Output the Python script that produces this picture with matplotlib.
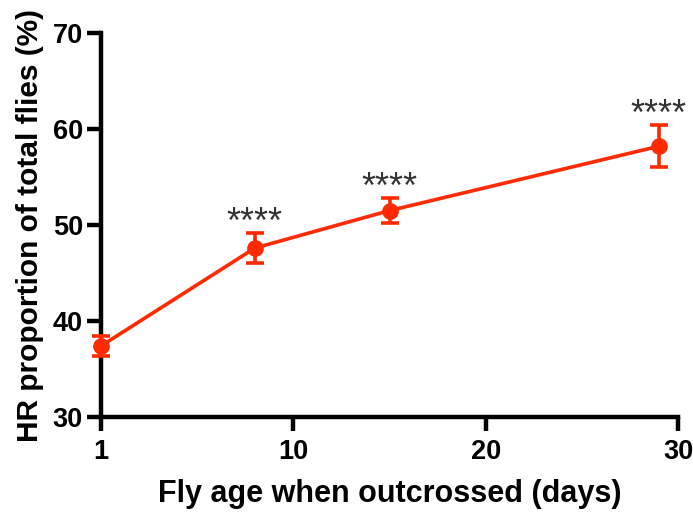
import numpy as np
import matplotlib
matplotlib.use("Agg")
from matplotlib import pyplot as plt

# values
x_pos = [0, 8, 15, 29]          # plotted positions (axis starts at "1")
hr_mean = [37.4, 47.6, 51.5, 58.2]
hr_err = [1.0, 1.6, 1.3, 2.2]
stars = ["", "****", "****", "****"]

x_ticks = [0, 10, 20, 30]
x_ticklabels = ["1", "10", "20", "30"]
y_ticks = [30, 40, 50, 60, 70]

red = "#ff2a00"

plt.rcParams['font.family'] = ['Liberation Sans', 'DejaVu Sans']

fig = plt.figure(figsize=(6.93, 5.22), dpi=100)
ax = fig.add_axes([101/693, 1 - 417/522, (678-101)/693, (417-33)/522])

ax.errorbar(x_pos, hr_mean, yerr=hr_err, color=red, lw=2.6, marker='o',
            markersize=11, capsize=6.5, capthick=2.6, elinewidth=2.6,
            clip_on=False, zorder=3)

for x, m, e, s in zip(x_pos, hr_mean, hr_err, stars):
    if s:
        ax.annotate(s, (x, m + e), xytext=(0, 0), textcoords='offset points',
                    ha='center', va='baseline', fontsize=26, color='#333333')

ax.set_xlim(0, 30)
ax.set_ylim(30, 70)
ax.set_xticks(x_ticks)
ax.set_xticklabels(x_ticklabels)
ax.set_yticks(y_ticks)

for side in ['top', 'right']:
    ax.spines[side].set_visible(False)
for side in ['left', 'bottom']:
    ax.spines[side].set_linewidth(3.2)
ax.tick_params(width=3.2, length=10, labelsize=19.5, pad=3)
ax.tick_params(axis='x', pad=6)
for lab in ax.get_xticklabels() + ax.get_yticklabels():
    lab.set_fontweight('bold')

ax.set_xlabel("Fly age when outcrossed (days)", fontsize=22, fontweight='bold', labelpad=10)
ax.set_ylabel("HR proportion of total flies (%)", fontsize=21.5, fontweight='bold', labelpad=6)

fig.savefig("out.png", dpi=100)
